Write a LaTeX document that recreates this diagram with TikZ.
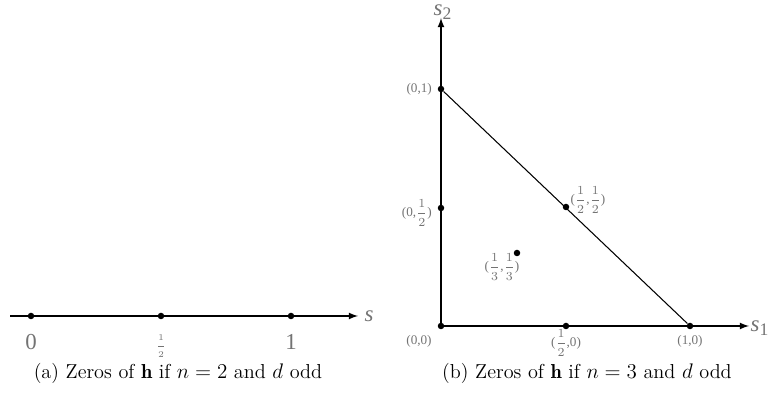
\documentclass[tikz,border=0pt]{standalone}
\usepackage{fontspec}
\newfontfamily\lblfont{Liberation Serif}
\usetikzlibrary{positioning}
\begin{document}
\begin{tikzpicture}
         [x=0.02cm, y=-0.02cm,
          zero/.style={circle,fill,inner sep=0pt,minimum size=0.13cm},
          lbl/.style={text=black!55,font=\lblfont\fontsize{7.5}{8}\selectfont,inner sep=1pt},
          biglbl/.style={text=black!55,font=\lblfont\fontsize{13}{14}\selectfont,inner sep=0pt},
          capt/.style={font=\fontsize{11.5}{13}\selectfont},
          axis/.style={-latex,thick}]
         \useasboundingbox (0,0) rectangle (769,404);

         % n = 2
         \coordinate (lstart) at (10,316);
         \coordinate (lend) at (358,316);
         \draw[axis] (lstart) -- (lend);
         \node[zero] (z0) at (31,316) {};
         \node[zero] (zh) at (161,316) {};
         \node[zero] (z1) at (291,316) {};
         \node[biglbl] at (31,342) {0};
         \node[lbl] at (161,346) {\fontsize{5.5}{6}\selectfont$\displaystyle\frac{1}{2}$};
         \node[biglbl] at (291,342) {1};
         \node[biglbl] at (369,316) {\itshape s};
         \node[capt] at (178,373) {(a) Zeros of $\mathbf{h}$ if $n=2$ and $d$ odd};

         % n = 3
         \node[zero] (o) at (441,326) {};
         \node[zero] (a01) at (441,89) {};
         \node[zero] (a10) at (690,326) {};
         \node[zero] (h0) at (566,326) {};
         \node[zero] (h1) at (441,208) {};
         \node[zero] (hh) at (566,207) {};
         \node[zero] (t) at (517,253) {};
         \coordinate (s1end) at (749,326);
         \coordinate (s2end) at (441,18);
         \draw[axis] (o.center) -- (s1end);
         \draw[axis] (o.center) -- (s2end);
         \draw[semithick] (a01) -- (a10);

         \node[lbl, left=2pt of a01] {(0,1)};
         \node[lbl, left=2pt of h1, yshift=-0.1cm] {(0,$\displaystyle\frac{1}{2}$)};
         \node[lbl] at (588,200) {($\displaystyle\frac{1}{2}$,$\displaystyle\frac{1}{2}$)};
         \node[lbl] at (502,267) {($\displaystyle\frac{1}{3}$,$\displaystyle\frac{1}{3}$)};
         \node[lbl] at (419,341) {(0,0)};
         \node[lbl] at (566,343) {($\displaystyle\frac{1}{2}$,0)};
         \node[lbl] at (690,341) {(1,0)};
         \node[biglbl] at (760,328) {\itshape s\textsubscript{\fontsize{10}{11}\selectfont\upshape 1}};
         \node[biglbl] at (443,12) {\itshape s\textsubscript{\fontsize{10}{11}\selectfont\upshape 2}};
         \node[capt] at (587,373) {(b) Zeros of $\mathbf{h}$ if $n=3$ and $d$ odd};
      \end{tikzpicture}
\end{document}
